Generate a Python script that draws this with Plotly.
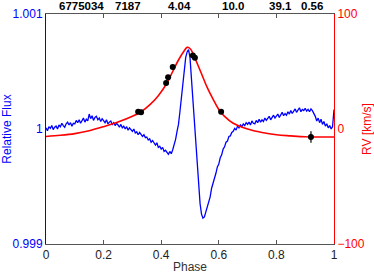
import plotly.graph_objects as go

# Relative flux light curve, offsets in ppm from 1, phase step 0.005
flux_phase_step = 0.005
flux_ppm = [
    10, -15, 20, 5, 30, -5, 15, 25, 0, 35,
    20, 50, 30, 15, 45, 60, 35, 55, 25, 50,
    45, 75, 55, 80, 50, 70, 95, 60, 85, 70,
    130, 90, 115, 75, 100, 110, 80, 95, 65, 90,
    75, 55, 80, 45, 60, 70, 40, 55, 30, 50,
    35, 15, 40, 10, 25, 0, 20, -10, 10, -5,
    -20, 0, -35, -25, -50, -30, -45, -65, -50, -75,
    -70, -95, -85, -115, -100, -125, -140, -120, -160, -150,
    -175, -160, -195, -185, -205, -220, -195, -215, -180, -140,
    -90, -20, 40, 150, 270, 400, 520, 620, 670, 690,
    620, 440, 250, 50, -150, -340, -520, -650, -740, -775,
    -765, -720, -695, -635, -590, -515, -475, -415, -385, -330,
    -305, -250, -225, -175, -155, -115, -105, -65, -60, -30,
    -20, 5, -10, 25, 10, 35, 20, 45, 30, 55,
    40, 60, 35, 70, 50, 45, 75, 55, 85, 60,
    80, 65, 95, 75, 90, 110, 80, 100, 120, 95,
    110, 130, 100, 125, 145, 115, 135, 120, 150, 130,
    160, 135, 150, 175, 145, 165, 185, 150, 170, 160,
    180, 155, 170, 150, 175, 160, 140, 110, 70, 95,
    55, 85, 40, 65, 25, 45, 10, 30, 0, 20,
    170,
]
flux_phase = [i * flux_phase_step for i in range(len(flux_ppm))]
flux = [1 + v * 1e-6 for v in flux_ppm]

# RV model curve
rv_model_phase = [0, 0.05, 0.1, 0.15, 0.2, 0.25, 0.3, 0.33, 0.36, 0.39, 0.42, 0.44,
                  0.46, 0.48, 0.49, 0.5, 0.51, 0.52, 0.54, 0.56, 0.58, 0.6, 0.62,
                  0.65, 0.7, 0.75, 0.8, 0.85, 0.9, 0.95, 1.0]
rv_model = [-6.5, -5.5, -4, -1.5, 2, 6, 11, 15, 21, 29, 40, 50,
            60, 68, 71, 70, 66, 60, 48, 36, 26, 17, 11,
            5, 0, -3, -5, -6, -6.8, -7, -7]

# RV observations
rv_obs_phase = [0.32, 0.33, 0.417, 0.424, 0.44, 0.51, 0.517, 0.608, 0.92]
rv_obs = [15, 14.5, 40, 45, 54, 64, 62, 15, -7]
rv_obs_err = [2, 2, 2, 2, 2, 2, 2, 2, 5]

# Top labels
top_labels = ["6775034", "7187", "4.04", "10.0", "39.1", "0.56"]
top_label_pos = [0.122, 0.285, 0.462, 0.649, 0.813, 0.924]

fig = go.Figure()
fig.add_trace(go.Scatter(x=flux_phase, y=flux, mode="lines",
                         line=dict(color="rgb(0,0,255)", width=1.3), showlegend=False))
fig.add_trace(go.Scatter(x=rv_model_phase, y=rv_model, mode="lines", yaxis="y2",
                         line=dict(color="red", width=1.6, shape="spline"), showlegend=False))
fig.add_trace(go.Scatter(x=rv_obs_phase, y=rv_obs, mode="markers", yaxis="y2",
                         marker=dict(color="black", size=6),
                         error_y=dict(type="data", array=rv_obs_err, color="black",
                                      thickness=1.2, width=0),
                         showlegend=False))

for lab, px in zip(top_labels, top_label_pos):
    fig.add_annotation(x=px, y=1, xref="paper", yref="paper", text="<b>%s</b>" % lab,
                       showarrow=False, xanchor="center", yanchor="bottom", yshift=0,
                       font=dict(size=11.5, color="black"))

fig.update_layout(
    width=374, height=274,
    margin=dict(l=46, r=40, t=14, b=30, autoexpand=False),
    paper_bgcolor="white", plot_bgcolor="white",
    font=dict(family="Liberation Sans, Arial, sans-serif", size=12),
    xaxis=dict(range=[0, 1], tickvals=[0, 0.2, 0.4, 0.6, 0.8, 1],
               ticktext=["0", "0.2", "0.4", "0.6", "0.8", "1"], automargin=False,
               ticks="inside", ticklen=4, tickcolor="#555", mirror="ticks",
               showline=True, linecolor="#555", linewidth=1, showgrid=False,
               zeroline=False, tickfont=dict(color="#222", size=12),
               title=dict(text="Phase", standoff=2, font=dict(color="#333", size=12))),
    yaxis=dict(range=[0.999, 1.001], tickvals=[0.999, 1, 1.001], automargin=False,
               ticktext=["0.999", "1", "1.001"], ticks="", showgrid=False,
               zeroline=False, showline=True, linecolor="rgb(0,0,255)", linewidth=1,
               tickfont=dict(color="rgb(0,0,255)", size=12),
               title=dict(text="Relative Flux", standoff=4,
                          font=dict(color="rgb(0,0,255)", size=12))),
    yaxis2=dict(range=[-100, 100], tickvals=[-100, 0, 100], overlaying="y", side="right",
                ticks="", showgrid=False, zeroline=False, showline=True, automargin=False,
                linecolor="red", linewidth=1, tickfont=dict(color="red", size=12),
                title=dict(text="RV [km/s]", standoff=4, font=dict(color="red", size=12))),
)

fig.write_html("out.html", config={"displayModeBar": False},
               post_script="document.body.style.margin='0';document.body.style.overflow='hidden';")
